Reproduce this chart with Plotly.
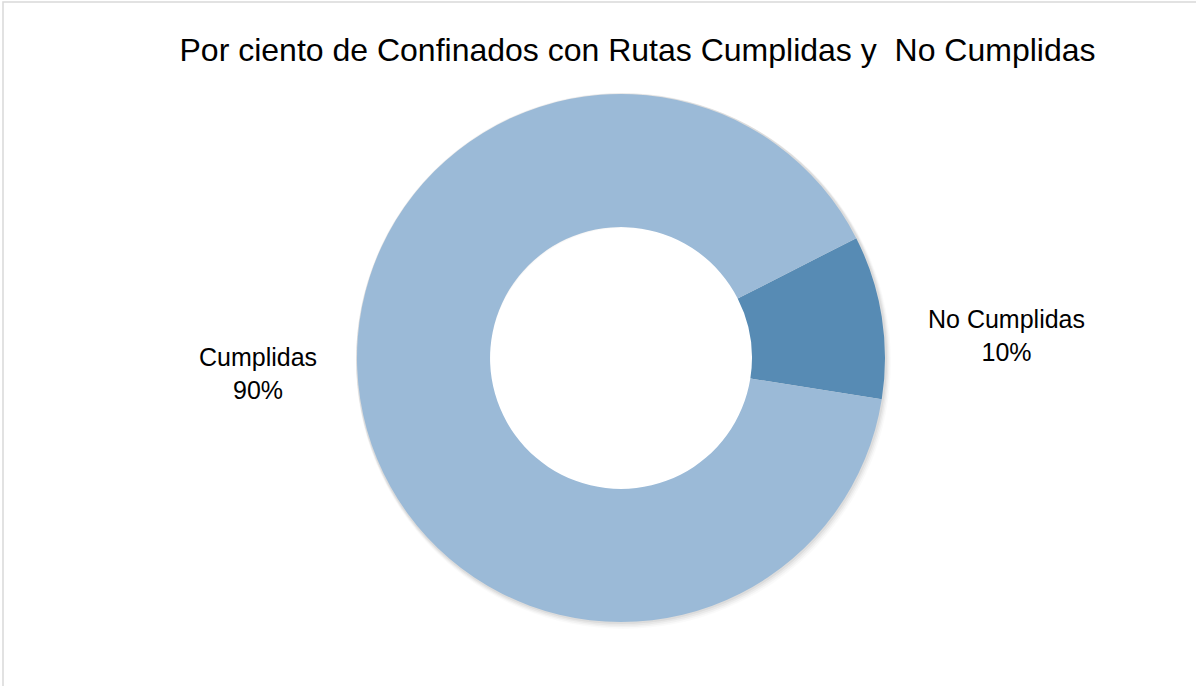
import plotly.graph_objects as go

# Data
categories = ["No Cumplidas", "Cumplidas"]
values = [10, 90]
colors = ["#578BB4", "#9BBAD7"]
title_text = "Por ciento de Confinados con Rutas Cumplidas y  No Cumplidas"

W, H = 1196, 686
FONT = "Liberation Sans, Arial, sans-serif"

# pie geometry (pixels)
cx, cy, R = 621, 358, 264
dom_x = [(cx - R) / W, (cx + R) / W]
dom_y = [(H - cy - R) / H, (H - cy + R) / H]

fig = go.Figure()

# soft shadow layers (decorative)
for i, (d, a) in enumerate([(8, 0.02), (6, 0.03), (4, 0.04), (2, 0.05)]):
    sx = [(cx - R - 1) / W, (cx + R + 1 + d * 0.6) / W]
    sy = [(H - cy - R - d) / H, (H - cy + R + 1) / H]
    fig.add_trace(go.Pie(
        values=[1], labels=["shadow%d" % i], hole=0.5, sort=False,
        marker=dict(colors=["rgba(0,0,0,%f)" % a], line=dict(width=0)),
        textinfo="none", hoverinfo="skip", showlegend=False,
        domain=dict(x=sx, y=sy),
    ))

fig.add_trace(go.Pie(
    labels=categories,
    values=values,
    hole=0.496,
    sort=False,
    direction="clockwise",
    rotation=63,
    marker=dict(colors=colors, line=dict(width=0)),
    textinfo="none",
    showlegend=False,
    domain=dict(x=dom_x, y=dom_y),
))

total = sum(values)
label_pos = {"Cumplidas": (258, 373), "No Cumplidas": (1006, 335)}
for cat, val in zip(categories, values):
    px, py = label_pos[cat]
    fig.add_annotation(
        x=px / W, y=1 - py / H, xref="paper", yref="paper",
        text="%s<br>%d%%" % (cat, round(100 * val / total)),
        showarrow=False, xanchor="center", yanchor="middle",
        font=dict(family=FONT, size=25, color="#000000"),
    )

fig.add_shape(type="rect", xref="paper", yref="paper",
              x0=3 / W, x1=1.05, y0=-0.05, y1=1 - 2 / H,
              line=dict(color="#D9D9D9", width=1.5), layer="below")

fig.update_layout(
    width=W, height=H,
    margin=dict(l=0, r=0, t=0, b=0),
    paper_bgcolor="#FFFFFF",
    plot_bgcolor="#FFFFFF",
    title=dict(text=title_text, x=637.5 / W, xanchor="center",
               y=1 - 50 / H, yanchor="middle",
               font=dict(family=FONT, size=32, color="#000000")),
    showlegend=False,
)

fig.write_html("out.html",
               config={"displayModeBar": False},
               post_script="document.body.style.margin='0';document.body.style.overflow='hidden';")
